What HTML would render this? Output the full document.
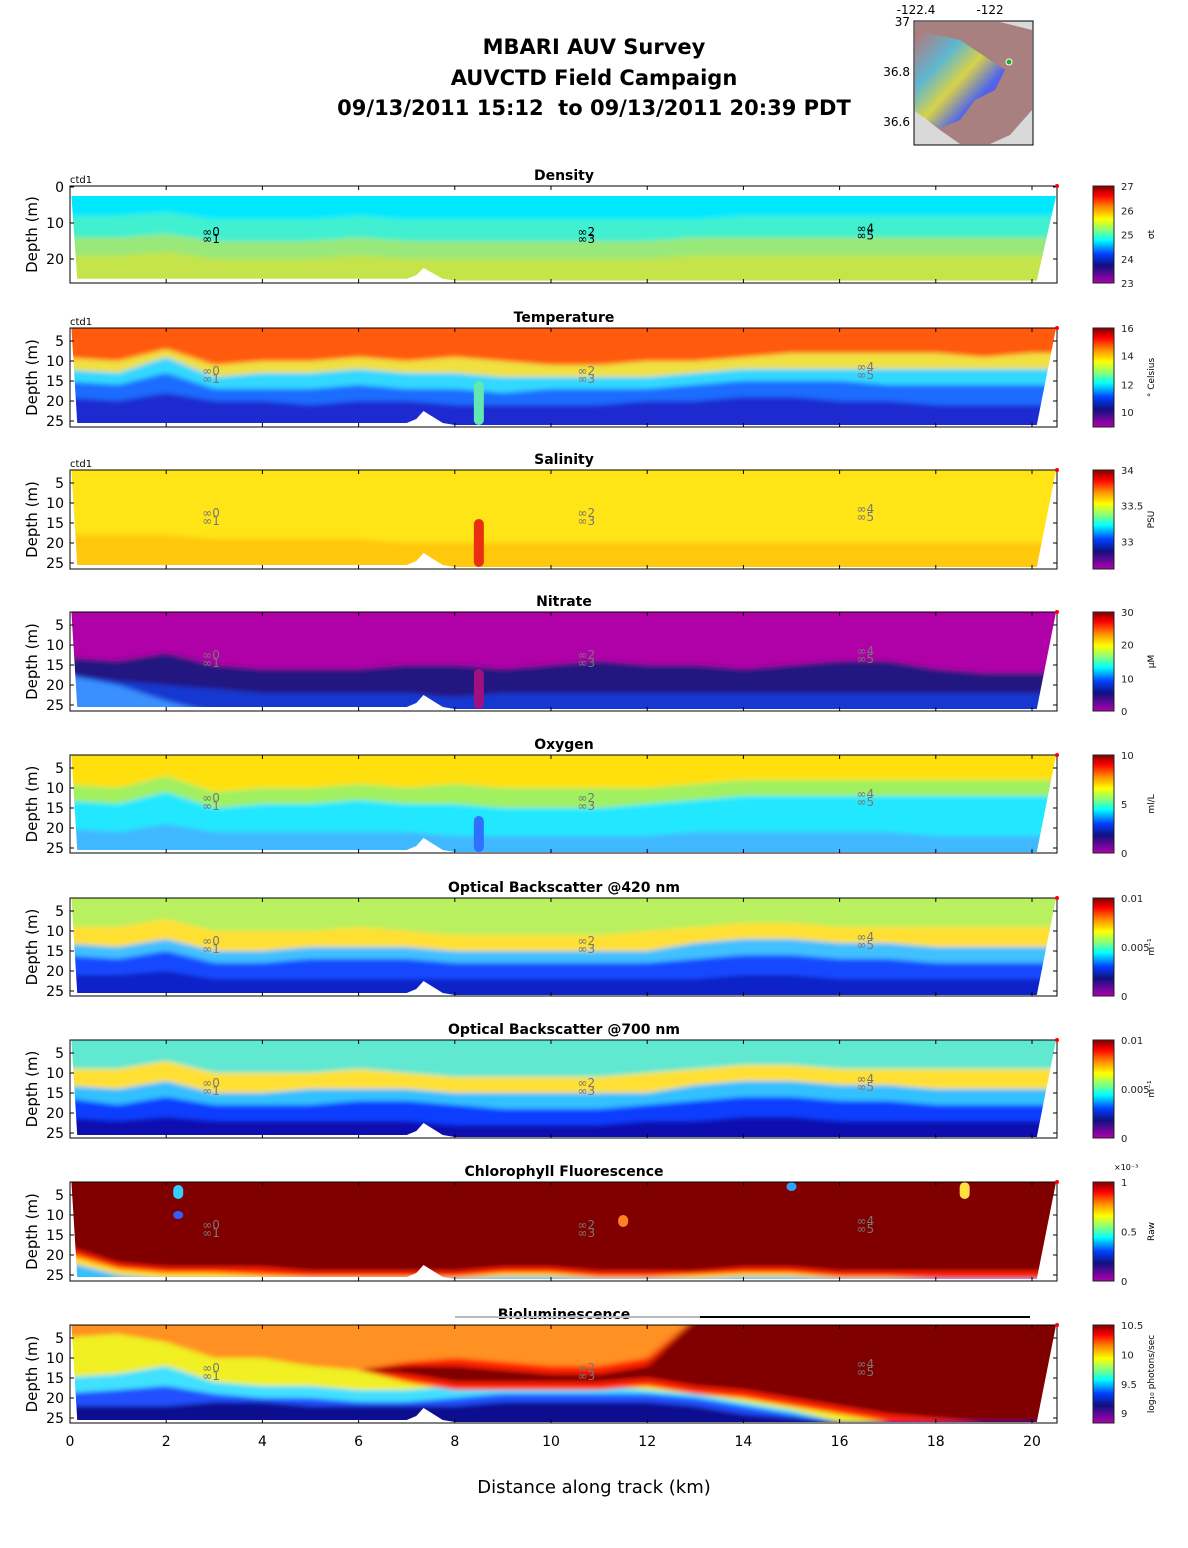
<!DOCTYPE html>
<html><head><meta charset="utf-8">
<style>
body{margin:0;background:#fff;}
svg{display:block;font-family:"DejaVu Sans","Liberation Sans",sans-serif;}
</style></head>
<body>
<svg id="fig" width="1188" height="1548" viewBox="0 0 1188 1548" xmlns="http://www.w3.org/2000/svg">
<defs>
<linearGradient id="jet" x1="0" y1="0" x2="0" y2="1">
<stop offset="0" stop-color="#7f0000"/><stop offset="0.1" stop-color="#ff0000"/><stop offset="0.22" stop-color="#ff8c00"/><stop offset="0.34" stop-color="#ffff00"/><stop offset="0.46" stop-color="#80ff80"/><stop offset="0.56" stop-color="#00ffff"/><stop offset="0.7" stop-color="#0040ff"/><stop offset="0.82" stop-color="#10107f"/><stop offset="1" stop-color="#b000b0"/>
</linearGradient>
<filter id="blur" x="-5%" y="-20%" width="110%" height="140%"><feGaussianBlur stdDeviation="4 2.5"/></filter>
<linearGradient id="mapg" x1="0" y1="0" x2="1" y2="1">
<stop offset="0" stop-color="#c07070"/><stop offset="0.3" stop-color="#50c0e0"/><stop offset="0.5" stop-color="#e0e040"/><stop offset="0.7" stop-color="#4060ff"/><stop offset="1" stop-color="#a020a0"/>
</linearGradient>
</defs>
<g id="titles">
<text x="594" y="54" font-size="21" font-weight="bold" text-anchor="middle">MBARI AUV Survey</text>
<text x="594" y="85" font-size="21" font-weight="bold" text-anchor="middle">AUVCTD Field Campaign</text>
<text x="594" y="115" font-size="21" font-weight="bold" text-anchor="middle" xml:space="preserve">09/13/2011 15:12  to 09/13/2011 20:39 PDT</text>
</g>
<g id="map">
<rect x="914" y="21" width="119" height="124" fill="#d9d9d9" stroke="#000" stroke-width="1"/>
<path d="M915,22 L1000,22 L1032,30 L1032,110 L1010,135 L990,144 L960,144 L940,130 L925,118 L915,110 Z" fill="#a88080"/>
<path d="M915,30 L960,40 L990,60 L1005,70 L995,90 L975,100 L960,120 L940,128 L915,112 Z" fill="url(#mapg)" opacity="0.85"/>
<circle cx="1009" cy="62" r="3" fill="#2a2" stroke="#fff"/>
<text x="916" y="14" font-size="12" text-anchor="middle">-122.4</text>
<text x="990" y="14" font-size="12" text-anchor="middle">-122</text>
<text x="910" y="26" font-size="12" text-anchor="end">37</text>
<text x="910" y="76" font-size="12" text-anchor="end">36.8</text>
<text x="910" y="126" font-size="12" text-anchor="end">36.6</text>
</g>
<g id="panels"></g>
<text x="594" y="1493" font-size="18" text-anchor="middle">Distance along track (km)</text>
</svg>
<script>
// ---- shared data ----
const xs = [0,1,2,3,4,5,6,7,8,9,10,11,12,13,14,15,16,17,18,19,20,20.5];
const botX = [0.15,7.0,7.2,7.35,7.55,7.75,8.0,20.1];
const botD = [25.5,25.5,24.5,22.5,24,25.5,26,26];
const xTickVals = [0,2,4,6,8,10,12,14,16,18,20];
const profileLabels = [[3.0,12.5,"0"],[3.0,14.5,"1"],[10.8,12.5,"2"],[10.8,14.5,"3"],[16.6,11.5,"4"],[16.6,13.5,"5"]];

// density
const denCyan = [8,8,7,9,9,9,8,9,9,9,9,9,9,9,8,8,8,8,8,8,8,8];
const denTeal = [14,14,13,15,15,15,14,15,15,15,15,15,15,14,14,14,14,14,14,14,14,14];
const denGreen = [19,19,18,20,20,20,19,20,20,20,20,20,20,19,19,19,19,19,19,19,19,19];
// temperature
const tmpRed = [9,10,7,11,10,10,9,10,9,10,11,11,10,10,9,8,8,8,8,9,8,8];
const tmpYel = [12,13,9,14,13,13,12,13,13,14,14,14,14,13,12,12,12,12,12,12,12,12];
const tmpCyan = [15,16,13,17,17,17,16,17,17,18,17,17,17,16,15,15,15,16,16,16,16,16];
const tmpBlue = [19,20,18,20,20,21,20,20,21,21,21,21,20,20,19,19,20,20,21,21,21,21];
// salinity
const salYel = [18,18,18,19,19,19,19,20,20,20,20,20,20,20,20,20,20,20,20,20,20,20];
// nitrate
const nitMag = [13,14,12,15,16,16,16,15,15,16,15,14,15,15,16,15,14,14,16,17,17,17];
const nitNavy = [17,19,20,21,22,22,22,22,23,22,22,22,22,22,22,22,22,22,22,22,22,22];
const nitLightTop = [17,20,24,27,27,27,27,27,27,27,27,27,27,27,27,27,27,27,27,27,27,27];
// oxygen
const oxYel = [9,10,7,11,10,10,9,10,9,10,10,10,10,9,8,8,8,8,8,8,8,8];
const oxGreen = [13,14,11,15,14,14,13,14,14,15,15,15,14,13,12,12,12,12,12,12,12,12];
const oxCyan = [20,21,19,21,21,21,21,21,22,22,22,22,22,21,21,21,21,21,22,22,22,22];
// obs 420
const o4Top = [9,9,7,10,10,10,9,10,11,11,11,11,10,9,8,8,9,9,9,9,9,9];
const o4Band = [13,14,12,15,15,14,14,14,15,15,15,15,15,13,12,12,13,13,14,14,14,14];
const o4Cyan = [16,17,15,18,18,17,17,17,18,18,18,18,18,17,16,16,17,17,18,18,18,18];
const o4Blue = [21,21,20,22,22,22,22,22,22,22,22,22,22,22,21,21,22,22,22,22,22,22];
// obs 700
const o7Top = [9,9,7,10,10,10,9,10,11,11,11,11,10,9,8,8,9,9,9,9,9,9];
const o7Band = [13,14,12,15,15,14,14,14,15,15,15,15,15,13,12,12,13,13,14,14,14,14];
const o7Cyan = [16,18,16,18,18,18,17,17,18,19,19,19,18,17,16,16,17,17,18,18,18,18];
const o7Blue = [21,22,21,22,22,22,22,22,23,23,23,23,22,22,21,21,22,22,22,22,22,22];
// chlorophyll
const chlDark = [17,22,23,23,23,24,24,24,24,23,23,24,24,24,23,23,24,24,24,24,24,24];
const chlRed = [19,23.5,24.5,24.5,25,25.5,25.5,25.5,25.5,24.5,24.5,25.5,25.5,25,24.5,24.5,25.5,25.5,26,26,26,26];
const chlYel = [21,25,26,26,26,26,26,26,26,25.5,25.5,26,26,26,25.5,25.5,26,26,26,26,26,26];
// bioluminescence
const bioBlue = [22,22,22,21,21,22,22,22,22,21,21,21,21,22,24,25,26,26,26,26,26,26];
const bioCyan = [19,18,17,19,20,20,21,21,20,19,19,19,19,20,22,24,26,26,26,26,26,26];
const bioYel = [15,14,12,16,17,17,18,18,17,17,17,17,18,19,21,23,26,26,26,26,26,26];
const bioOrg = [5,4,6,10,10,12,13,13,13,14,14,14,15,16,18,21,24,26,26,26,26,26];
const bioRedTop = [13,13,13,13,13,13,13,11,10,11,12,12,10,0,0,0,0,0,0,0,0,0];
const bioRedBot = [13,13,13,13,13,13,13,16,18,18,18,18,17,19,20,22,24,26,26,26,26,26];
const bioDarkTop = [13,13,13,13,13,13,13,12,12,13,14,14,12,0,0,0,0,0,0,0,0,0];
const bioDarkBot = [13,13,13,13,13,13,13,14,16,16,16,16,15,17,18,20,22,24,25,26,26,26];

const panels = [
 {name:"density",title:"Density",top:186,h:97,d0:-0.28,ppm:3.6,yt:[0,10,20],dTop:2.5,base:"#c5e448",
  layers:[["#98e87a",null,denGreen],["#40f0d0",null,denTeal],["#00e8ff",null,denCyan]],
  cb:[["27",0],["26",0.25],["25",0.5],["24",0.75],["23",1]],unit:"σt",ctd:true,
  feats:[]},
 {name:"temperature",title:"Temperature",top:328,h:99,d0:1.75,ppm:4,yt:[5,10,15,20,25],base:"#1a2ad0",
  layers:[["#1f6cff",null,tmpBlue],["#30d8ff",null,tmpCyan],["#f0e040",null,tmpYel],["#ff5a10",null,tmpRed]],
  cb:[["16",0],["14",0.28],["12",0.57],["10",0.85]],unit:"° Celsius",ctd:true,
  feats:[[8.5,15,26,"#60e8b0"]]},
 {name:"salinity",title:"Salinity",top:470,h:99,d0:1.75,ppm:4,yt:[5,10,15,20,25],base:"#ffc810",
  layers:[["#ffe418",null,salYel]],
  cb:[["34",0],["33.5",0.36],["33",0.72]],unit:"PSU",ctd:true,
  feats:[[8.5,14,26,"#e83010"]]},
 {name:"nitrate",title:"Nitrate",top:612,h:99,d0:1.75,ppm:4,yt:[5,10,15,20,25],base:"#1838d0",
  layers:[["#3a90ff",nitLightTop,[27,27,27,27,27,27,27,27,27,27,27,27,27,27,27,27,27,27,27,27,27,27]],["#241880",null,nitNavy],["#b000a8",null,nitMag]],
  cb:[["30",0],["20",0.33],["10",0.67],["0",1]],unit:"µM",
  feats:[[8.5,16,26,"#a01080"]]},
 {name:"oxygen",title:"Oxygen",top:755,h:98,d0:1.75,ppm:4,yt:[5,10,15,20,25],base:"#40b8ff",
  layers:[["#20e8ff",null,oxCyan],["#a0f060",null,oxGreen],["#ffe010",null,oxYel]],
  cb:[["10",0],["5",0.5],["0",1]],unit:"ml/L",
  feats:[[8.5,17,26,"#3070ff"]]},
 {name:"obs420",title:"Optical Backscatter @420 nm",top:898,h:98,d0:1.75,ppm:4,yt:[5,10,15,20,25],base:"#1020c8",
  layers:[["#1848ff",null,o4Blue],["#40c0ff",null,o4Cyan],["#ffe030",null,o4Band],["#b8f060",null,o4Top]],
  cb:[["0.01",0],["0.005",0.5],["0",1]],unit:"m⁻¹",
  feats:[]},
 {name:"obs700",title:"Optical Backscatter @700 nm",top:1040,h:98,d0:1.75,ppm:4,yt:[5,10,15,20,25],base:"#1010b0",
  layers:[["#0a3cff",null,o7Blue],["#30c0ff",null,o7Cyan],["#ffe030",null,o7Band],["#60e8d0",null,o7Top]],
  cb:[["0.01",0],["0.005",0.5],["0",1]],unit:"m⁻¹",
  feats:[]},
 {name:"chlorophyll",title:"Chlorophyll Fluorescence",top:1182,h:99,d0:1.75,ppm:4,yt:[5,10,15,20,25],base:"#30c0ff",
  layers:[["#ffe020",null,chlYel],["#ff2000",null,chlRed],["#800000",null,chlDark]],
  cb:[["1",0],["0.5",0.5],["0",1]],unit:"Raw",exp:"×10⁻³",
  feats:[[2.25,2.5,6,"#30d0ff"],[2.25,9,11,"#3060ff"],[15.0,1.8,4,"#30a0ff"],[18.6,1.8,6,"#ffe040"],[11.5,10,13,"#ff8020"]]},
 {name:"bioluminescence",title:"Bioluminescence",top:1325,h:98,d0:1.75,ppm:4,yt:[5,10,15,20,25],base:"#101090",
  layers:[["#2050ff",null,bioBlue],["#40e0ff",null,bioCyan],["#f0f020",null,bioYel],["#ff9020",null,bioOrg],["#ff2000",bioRedTop,bioRedBot],["#800000",bioDarkTop,bioDarkBot]],
  cb:[["10.5",0],["10",0.3],["9.5",0.6],["9",0.9]],unit:"log₁₀ photons/sec",
  feats:[],xlabels:true}
];

const NS = "http://www.w3.org/2000/svg";
const X0 = 70, KM = 48.1, XR = 1057;
function xk(k){ return X0 + k*KM; }
function mk(tag, attrs, parent){
  const e = document.createElementNS(NS, tag);
  for (const k in attrs) e.setAttribute(k, attrs[k]);
  parent.appendChild(e);
  return e;
}
const root = document.getElementById("panels");

panels.forEach((p, pi) => {
  const yd = d => p.top + (d - p.d0)*p.ppm;
  const g = mk("g", {}, root);
  
  
  const dTop = p.dTop !== undefined ? p.dTop : p.d0;
  let pts = [[0.03,dTop],[20.5,dTop]];
  for (let i = botX.length-1; i >= 0; i--) pts.push([botX[i], botD[i]]);
  const cp = mk("clipPath", {id:"clip"+pi}, g);
  mk("polygon", {points: pts.map(q => xk(q[0])+","+yd(q[1])).join(" ")}, cp);
  const dataG = mk("g", {"clip-path":"url(#clip"+pi+")"}, g);
  
  
  const blurG = mk("g", {filter:"url(#blur)"}, dataG);
  mk("rect", {x:X0-10, y:p.top-10, width:XR-X0+20, height:p.h+20, fill:p.base}, blurG);
  p.layers.forEach(L => {
    const topArr = L[1], botArr = L[2];
    const top = xs.map((x,i) => [x, topArr ? topArr[i] : -5]);
    const bot = xs.map((x,i) => [x, botArr[i]]).reverse();
    const ext = q => [q[0]===0 ? -0.3 : (q[0]===20.5 ? 20.8 : q[0]), q[1]];
    const poly = top.map(ext).concat(bot.map(ext));
    const el = mk("polygon", {points: poly.map(q => xk(q[0])+","+yd(q[1])).join(" "), fill:L[0]}, blurG);
    
    
  });
  p.feats.forEach(f => {
    const el = mk("rect", {x:xk(f[0])-5, y:yd(f[1]), width:10, height:(f[2]-f[1])*p.ppm, rx:5, fill:f[3]}, dataG);
    
    
  });
  profileLabels.forEach(l => {
    const t = mk("text", {x:xk(l[0])-12, y:yd(l[1])+4, "font-size":12, fill: pi===0?"#000":"#777"}, g);
    t.textContent = "∞" + l[2];
    
    
  });
  const fr = mk("rect", {x:X0, y:p.top, width:XR-X0, height:p.h, fill:"none", stroke:"#000", "stroke-width":1}, g);
  
  
  xTickVals.forEach(v => {
    mk("line", {x1:xk(v), x2:xk(v), y1:p.top+p.h, y2:p.top+p.h-4, stroke:"#000"}, g);
    mk("line", {x1:xk(v), x2:xk(v), y1:p.top, y2:p.top+4, stroke:"#000"}, g);
    if (p.xlabels) {
      const t = mk("text", {x:xk(v), y:p.top+p.h+23, "font-size":14, "text-anchor":"middle"}, g);
      t.textContent = v;
      
      
    }
  });
  p.yt.forEach(v => {
    const y = yd(v);
    mk("line", {x1:X0, x2:X0+4, y1:y, y2:y, stroke:"#000"}, g);
    mk("line", {x1:XR, x2:XR-4, y1:y, y2:y, stroke:"#000"}, g);
    const t = mk("text", {x:X0-6, y:y+5, "font-size":14, "text-anchor":"end"}, g);
    t.textContent = v;
    
    
  });
  const yl = mk("text", {x:0, y:0, "font-size":15, "text-anchor":"middle", transform:"translate(37,"+(p.top+p.h/2)+") rotate(-90)"}, g);
  yl.textContent = "Depth (m)";
  
  
  const tt = mk("text", {x:564, y:p.top-6, "font-size":14, "font-weight":"bold", "text-anchor":"middle"}, g);
  tt.textContent = p.title;
  
  
  if (p.ctd) {
    const c = mk("text", {x:70, y:p.top-3, "font-size":10}, g);
    c.textContent = "ctd1";
    
    
  }
  mk("circle", {cx:XR, cy:p.top, r:2, fill:"#f00"}, g);
  const cbH = p.h;
  const cb = mk("rect", {x:1093, y:p.top, width:21, height:cbH, fill:"url(#jet)", stroke:"#222"}, g);
  
  
  p.cb.forEach(c => {
    const t = mk("text", {x:1121, y:p.top + c[1]*cbH + 4, "font-size":10, fill:"#222"}, g);
    t.textContent = c[0];
    
    
  });
  const u = mk("text", {x:0, y:0, "font-size":9, "text-anchor":"middle", transform:"translate(1154,"+(p.top+p.h/2)+") rotate(-90)"}, g);
  u.textContent = p.unit;
  
  
  if (p.exp) {
    const e = mk("text", {x:1114, y:p.top-12, "font-size":8}, g);
    e.textContent = p.exp;
    
    
  }
  if (pi === 8) {
    mk("line", {x1:455, x2:700, y1:p.top-8, y2:p.top-8, stroke:"#bbb", "stroke-width":2}, g);
    const bl = mk("line", {x1:700, x2:1030, y1:p.top-8, y2:p.top-8, stroke:"#000", "stroke-width":2}, g);
    
    
  }
});
</script>
</body></html>
